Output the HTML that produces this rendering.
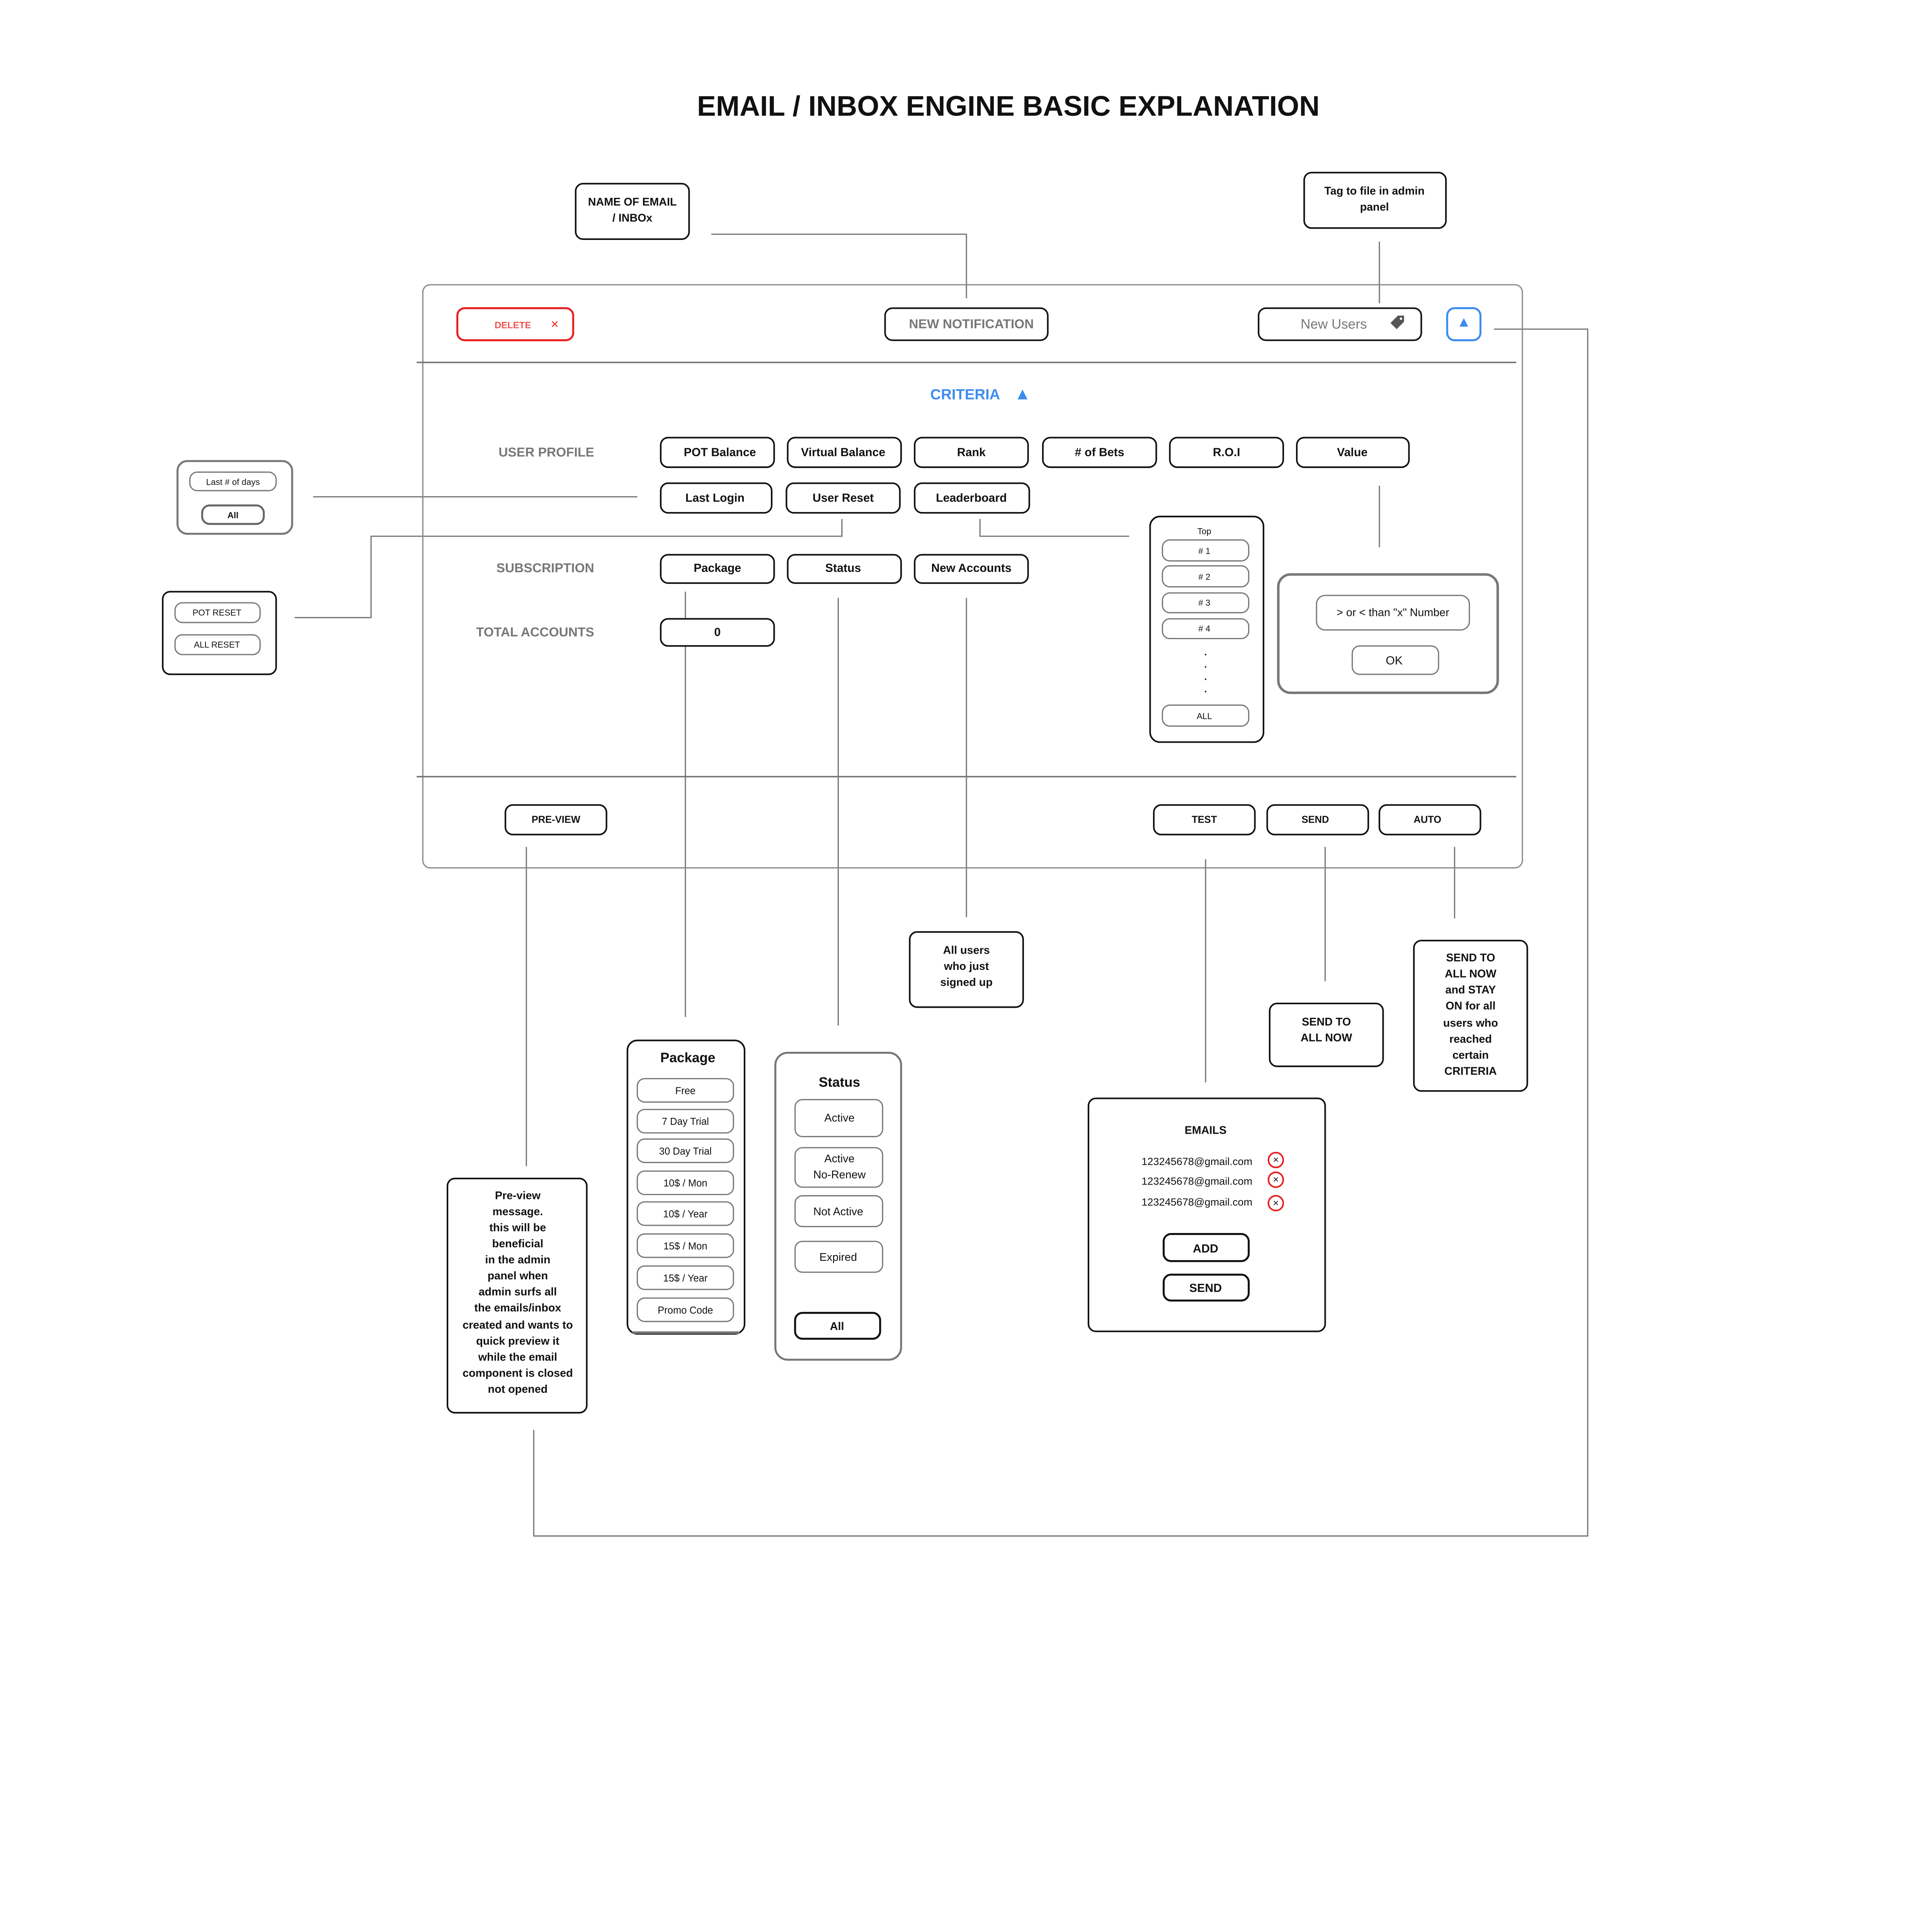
<!DOCTYPE html>
<html><head><meta charset="utf-8"><style>
html,body{margin:0;padding:0;background:#fff;width:5334px;height:5198px;overflow:hidden}
svg{display:block}
text{font-family:"Liberation Sans",sans-serif;text-anchor:middle;dominant-baseline:central;fill:#111}
.b{font-weight:bold}
.g{fill:#777}
.ln{stroke:#777;stroke-width:1;fill:none}
.bx{fill:#fff;stroke:#111;stroke-width:1.3}
.gb{fill:#fff;stroke:#777;stroke-width:1}
</style></head><body>
<svg width="5334" height="5198" viewBox="0 0 1672 1629.3" preserveAspectRatio="none" xmlns="http://www.w3.org/2000/svg">
<text x="818" y="86" class="b" style="font-size:23px">EMAIL / INBOX ENGINE BASIC EXPLANATION</text>

<polyline class="ln" points="577,190 784,190 784,242"/>
<line class="ln" x1="1119" y1="196" x2="1119" y2="246"/>
<polyline class="ln" points="1212,267 1288,267 1288,1246 433,1246 433,1160"/>
<line class="ln" x1="254" y1="403" x2="517" y2="403"/>
<polyline class="ln" points="683,421 683,435 301,435 301,501 239,501"/>
<polyline class="ln" points="795,421 795,435 916,435"/>
<line class="ln" x1="1119" y1="394" x2="1119" y2="444"/>
<line class="ln" x1="556" y1="480" x2="556" y2="825"/>
<line class="ln" x1="680" y1="485" x2="680" y2="832"/>
<line class="ln" x1="784" y1="485" x2="784" y2="744"/>
<line class="ln" x1="427" y1="687" x2="427" y2="946"/>
<line class="ln" x1="978" y1="697" x2="978" y2="878"/>
<line class="ln" x1="1075" y1="687" x2="1075" y2="796"/>
<line class="ln" x1="1180" y1="687" x2="1180" y2="745"/>

<rect class="bx" x="467" y="149" width="92" height="45" rx="6"/>
<text x="513" y="164" class="b" style="font-size:9px">NAME OF EMAIL</text>
<text x="513" y="177" class="b" style="font-size:9px">/ INBOx</text>
<rect class="bx" x="1058" y="140" width="115" height="45" rx="6"/>
<text x="1115" y="155" class="b" style="font-size:9px">Tag to file in admin</text>
<text x="1115" y="168" class="b" style="font-size:9px">panel</text>

<rect x="343" y="231" width="892" height="473" rx="6" fill="none" stroke="#888" stroke-width="1"/>
<line class="ln" x1="338" y1="294" x2="1230" y2="294" style="stroke-width:1.2"/>
<line class="ln" x1="338" y1="630" x2="1230" y2="630" style="stroke-width:1.2"/>

<rect x="371" y="250" width="94" height="26" rx="6" fill="#fff" stroke="#e82020" stroke-width="1.6"/>
<text x="416" y="264" class="b" style="font-size:7.5px;fill:#f05050">DELETE</text>
<text x="450" y="263" style="font-size:11px;fill:#e82020">×</text>
<rect class="bx" x="718" y="250" width="132" height="26" rx="6"/>
<text x="788" y="263" class="b g" style="font-size:10.5px">NEW NOTIFICATION</text>
<rect class="bx" x="1021" y="250" width="132" height="26" rx="6"/>
<text x="1082" y="263" class="g" style="font-size:11px">New Users</text>
<path d="M1128,262 l6,-6 h5 v5 l-6,6 z" fill="#555"/><circle cx="1136.5" cy="258.5" r="1" fill="#fff"/>
<rect x="1174" y="250" width="27" height="26" rx="6" fill="#fff" stroke="#3d8cf0" stroke-width="1.6"/>
<path d="M1187.5,258 l3.5,7 h-7 z" fill="#3d8cf0"/>

<text x="783" y="320" class="b" style="font-size:12px;fill:#3d8cf0">CRITERIA</text>
<path d="M829.5,316 l4,8 h-8 z" fill="#3d8cf0"/>

<text x="482" y="367" class="b g" style="font-size:10.5px;text-anchor:end">USER PROFILE</text>
<text x="482" y="461" class="b g" style="font-size:10.5px;text-anchor:end">SUBSCRIPTION</text>
<text x="482" y="513" class="b g" style="font-size:10.5px;text-anchor:end">TOTAL ACCOUNTS</text>

<g style="font-size:9.5px" class="b">
<rect class="bx" x="536" y="355" width="92" height="24" rx="6"/><text x="584" y="367" class="b">POT Balance</text>
<rect class="bx" x="639" y="355" width="92" height="24" rx="6"/><text x="684" y="367" class="b">Virtual Balance</text>
<rect class="bx" x="742" y="355" width="92" height="24" rx="6"/><text x="788" y="367" class="b">Rank</text>
<rect class="bx" x="846" y="355" width="92" height="24" rx="6"/><text x="892" y="367" class="b"># of Bets</text>
<rect class="bx" x="949" y="355" width="92" height="24" rx="6"/><text x="995" y="367" class="b">R.O.I</text>
<rect class="bx" x="1052" y="355" width="91" height="24" rx="6"/><text x="1097" y="367" class="b">Value</text>
<rect class="bx" x="536" y="392" width="90" height="24" rx="6"/><text x="580" y="404" class="b">Last Login</text>
<rect class="bx" x="638" y="392" width="92" height="24" rx="6"/><text x="684" y="404" class="b">User Reset</text>
<rect class="bx" x="742" y="392" width="93" height="24" rx="6"/><text x="788" y="404" class="b">Leaderboard</text>
<rect class="bx" x="536" y="450" width="92" height="23" rx="6"/><text x="582" y="461" class="b">Package</text>
<rect class="bx" x="639" y="450" width="92" height="23" rx="6"/><text x="684" y="461" class="b">Status</text>
<rect class="bx" x="742" y="450" width="92" height="23" rx="6"/><text x="788" y="461" class="b">New Accounts</text>
<rect class="bx" x="536" y="502" width="92" height="22" rx="6"/><text x="582" y="513" class="b">0</text>
</g>

<rect x="144" y="374" width="93" height="59" rx="8" fill="#fff" stroke="#777" stroke-width="1.6"/>
<rect class="gb" x="154" y="383" width="70" height="15" rx="6"/><text x="189" y="391" style="font-size:7px">Last # of days</text>
<rect x="164" y="410" width="50" height="15" rx="6" fill="#fff" stroke="#666" stroke-width="1.6"/><text x="189" y="418" class="b" style="font-size:7px">All</text>
<rect class="bx" x="132" y="480" width="92" height="67" rx="6"/>
<rect class="gb" x="142" y="489" width="69" height="16" rx="6"/><text x="176" y="497" style="font-size:7px">POT RESET</text>
<rect class="gb" x="142" y="515" width="69" height="16" rx="6"/><text x="176" y="523" style="font-size:7px">ALL RESET</text>

<rect class="bx" x="933" y="419" width="92" height="183" rx="8"/>
<text x="977" y="431" style="font-size:7px">Top</text>
<g style="font-size:7px">
<rect class="gb" x="943" y="438" width="70" height="17" rx="6"/><text x="977" y="447"># 1</text>
<rect class="gb" x="943" y="459" width="70" height="17" rx="6"/><text x="977" y="468"># 2</text>
<rect class="gb" x="943" y="481" width="70" height="16" rx="6"/><text x="977" y="489"># 3</text>
<rect class="gb" x="943" y="502" width="70" height="16" rx="6"/><text x="977" y="510"># 4</text>
<rect class="gb" x="943" y="572" width="70" height="17" rx="6"/><text x="977" y="581">ALL</text>
</g>
<g fill="#333"><circle cx="978" cy="531" r="0.7"/><circle cx="978" cy="541" r="0.7"/><circle cx="978" cy="551" r="0.7"/><circle cx="978" cy="561" r="0.7"/></g>

<rect x="1037" y="466" width="178" height="96" rx="10" fill="#fff" stroke="#777" stroke-width="2"/>
<rect class="gb" x="1068" y="483" width="124" height="28" rx="7"/><text x="1130" y="497" style="font-size:9px">&gt; or &lt; than "x" Number</text>
<rect class="gb" x="1097" y="524" width="70" height="23" rx="6"/><text x="1131" y="536" style="font-size:9.5px">OK</text>

<g style="font-size:8px">
<rect class="bx" x="410" y="653" width="82" height="24" rx="6"/><text x="451" y="665" class="b">PRE-VIEW</text>
<rect class="bx" x="936" y="653" width="82" height="24" rx="6"/><text x="977" y="665" class="b">TEST</text>
<rect class="bx" x="1028" y="653" width="82" height="24" rx="6"/><text x="1067" y="665" class="b">SEND</text>
<rect class="bx" x="1119" y="653" width="82" height="24" rx="6"/><text x="1158" y="665" class="b">AUTO</text>
</g>

<g style="font-size:9px">
<rect class="bx" x="738" y="756" width="92" height="61" rx="6"/>
<text x="784" y="771" class="b">All users</text><text x="784" y="784" class="b">who just</text><text x="784" y="797" class="b">signed up</text>
<rect class="bx" x="1030" y="814" width="92" height="51" rx="6"/>
<text x="1076" y="829" class="b">SEND TO</text><text x="1076" y="842" class="b">ALL NOW</text>
<rect class="bx" x="1147" y="763" width="92" height="122" rx="6"/>
<text x="1193" y="777" class="b">SEND TO</text><text x="1193" y="790" class="b">ALL NOW</text><text x="1193" y="803" class="b">and STAY</text><text x="1193" y="816" class="b">ON for all</text><text x="1193" y="830" class="b">users who</text><text x="1193" y="843" class="b">reached</text><text x="1193" y="856" class="b">certain</text><text x="1193" y="869" class="b">CRITERIA</text>
<rect class="bx" x="363" y="956" width="113" height="190" rx="6"/>
<text x="420" y="970" class="b">Pre-view</text><text x="420" y="983" class="b">message.</text><text x="420" y="996" class="b">this will be</text><text x="420" y="1009" class="b">beneficial</text><text x="420" y="1022" class="b">in the admin</text><text x="420" y="1035" class="b">panel when</text><text x="420" y="1048" class="b">admin surfs all</text><text x="420" y="1061" class="b">the emails/inbox</text><text x="420" y="1075" class="b">created and wants to</text><text x="420" y="1088" class="b">quick preview it</text><text x="420" y="1101" class="b">while the email</text><text x="420" y="1114" class="b">component is closed</text><text x="420" y="1127" class="b">not opened</text>
</g>

<rect x="509" y="844" width="95" height="238" rx="8" fill="#fff" stroke="#111" stroke-width="1.3"/>
<line x1="513" y1="1081" x2="600" y2="1081" stroke="#777" stroke-width="2"/>
<text x="558" y="858" class="b" style="font-size:11px">Package</text>
<g style="font-size:8px">
<rect class="gb" x="517" y="875" width="78" height="19" rx="6"/><text x="556" y="885">Free</text>
<rect class="gb" x="517" y="900" width="78" height="19" rx="6"/><text x="556" y="910">7 Day Trial</text>
<rect class="gb" x="517" y="924" width="78" height="19" rx="6"/><text x="556" y="934">30 Day Trial</text>
<rect class="gb" x="517" y="950" width="78" height="19" rx="6"/><text x="556" y="960">10$ / Mon</text>
<rect class="gb" x="517" y="975" width="78" height="19" rx="6"/><text x="556" y="985">10$ / Year</text>
<rect class="gb" x="517" y="1001" width="78" height="19" rx="6"/><text x="556" y="1011">15$ / Mon</text>
<rect class="gb" x="517" y="1027" width="78" height="19" rx="6"/><text x="556" y="1037">15$ / Year</text>
<rect class="gb" x="517" y="1053" width="78" height="19" rx="6"/><text x="556" y="1063">Promo Code</text>
</g>

<rect x="629" y="854" width="102" height="249" rx="10" fill="#fff" stroke="#777" stroke-width="1.6"/>
<text x="681" y="878" class="b" style="font-size:11px">Status</text>
<g style="font-size:9px">
<rect class="gb" x="645" y="892" width="71" height="30" rx="6"/><text x="681" y="907">Active</text>
<rect class="gb" x="645" y="931" width="71" height="32" rx="6"/><text x="681" y="940">Active</text><text x="681" y="953">No-Renew</text>
<rect class="gb" x="645" y="970" width="71" height="25" rx="6"/><text x="680" y="983">Not Active</text>
<rect class="gb" x="645" y="1007" width="71" height="25" rx="6"/><text x="680" y="1020">Expired</text>
<rect x="645" y="1065" width="69" height="21" rx="6" fill="#fff" stroke="#111" stroke-width="1.6"/><text x="679" y="1076" class="b">All</text>
</g>

<rect class="bx" x="883" y="891" width="192" height="189" rx="6"/>
<text x="978" y="917" class="b" style="font-size:9px">EMAILS</text>
<g style="font-size:8.5px">
<text x="971" y="942">123245678@gmail.com</text>
<text x="971" y="958">123245678@gmail.com</text>
<text x="971" y="975">123245678@gmail.com</text>
</g>
<g fill="#fff" stroke="#e82020" stroke-width="1.3">
<circle cx="1035" cy="941" r="6"/><circle cx="1035" cy="957" r="6"/><circle cx="1035" cy="976" r="6"/>
</g>
<g style="font-size:8px"><text x="1035" y="941">×</text><text x="1035" y="957">×</text><text x="1035" y="976">×</text></g>
<rect x="944" y="1001" width="69" height="22" rx="6" fill="#fff" stroke="#111" stroke-width="1.6"/><text x="978" y="1013" class="b" style="font-size:9.5px">ADD</text>
<rect x="944" y="1034" width="69" height="21" rx="6" fill="#fff" stroke="#111" stroke-width="1.6"/><text x="978" y="1045" class="b" style="font-size:9.5px">SEND</text>
</svg>
</body></html>
